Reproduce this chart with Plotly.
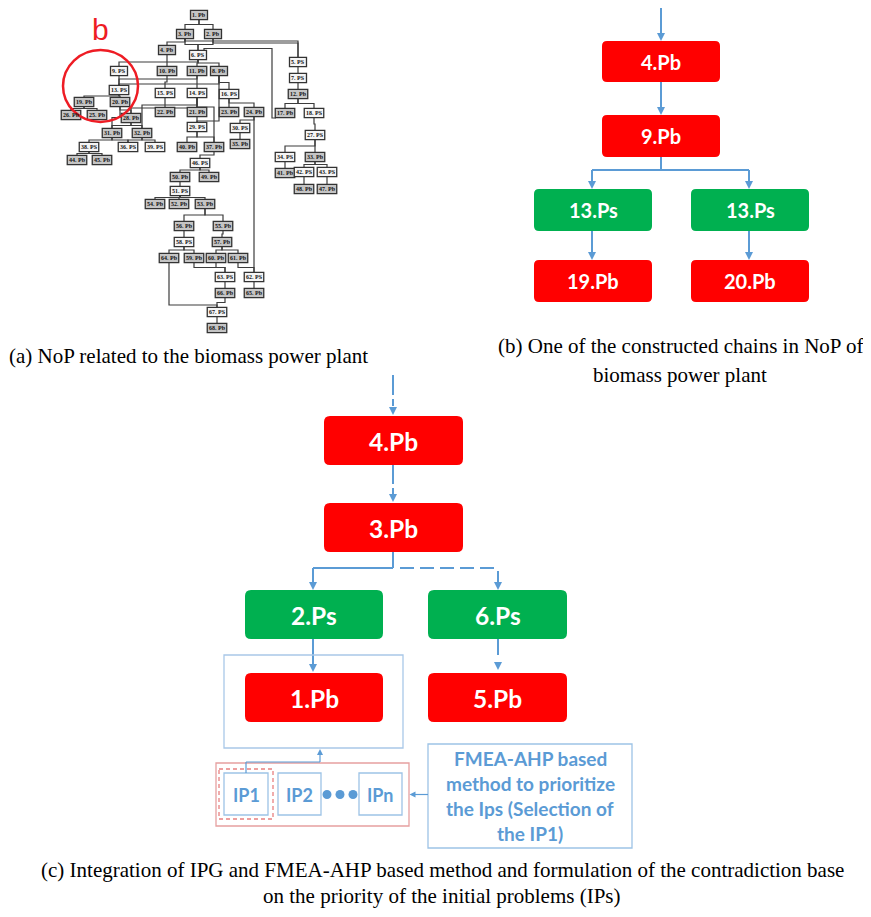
import plotly.graph_objects as go

# ---------------- Panel (a): network of problems (NoP) ----------------
A_labels = ["1. Pb", "3. Pb", "2. Pb", "4. Pb", "6. PS", "9. PS", "10. Pb", "11. Pb", "8. Pb",
            "5. PS", "7. PS", "12. Pb", "13. PS", "15. PS", "14. PS", "16. PS", "19. Pb", "20. Pb",
            "22. Pb", "21. Pb", "23. Pb", "24. Pb", "17. Pb", "18. PS", "26. Pb", "25. Pb", "28. Pb",
            "29. PS", "30. PS", "31. Pb", "32. Pb", "27. PS", "35. Pb", "38. PS", "36. PS", "39. PS",
            "40. Pb", "37. Pb", "34. PS", "33. Pb", "44. Pb", "45. Pb", "46. PS", "41. Pb", "42. PS",
            "43. PS", "50. Pb", "49. Pb", "48. Pb", "47. Pb", "51. PS", "54. Pb", "52. Pb", "53. Pb",
            "56. Pb", "55. Pb", "58. PS", "57. Pb", "64. Pb", "59. Pb", "60. Pb", "61. Pb", "63. PS",
            "62. PS", "66. Pb", "65. Pb", "67. PS", "68. Pb"]
A_x = [199, 185, 213, 167, 198, 119, 167, 197, 219,
       298, 298, 298, 119, 165, 197, 229, 84, 120,
       165, 197, 229, 254, 285, 314, 71, 97, 131,
       197, 240, 112, 142, 315, 240, 89, 128, 155,
       187, 214, 285, 315, 77, 102, 200, 285, 304,
       327, 180, 209, 304, 327, 180, 155, 179, 205,
       184, 223, 184, 222, 169, 194, 216, 238, 225,
       254, 225, 254, 217, 217]
A_y = [15, 34, 34, 50, 55, 71, 71, 71, 71,
       62, 78, 94, 90, 93, 93, 94, 102, 102,
       112, 112, 112, 112, 113, 113, 115, 115, 118,
       127, 128, 133, 133, 135, 144, 147, 147, 147,
       147, 147, 157, 157, 160, 160, 163, 173, 172,
       172, 177, 177, 189, 189, 191, 204, 204, 204,
       226, 226, 242, 242, 258, 258, 258, 258, 277,
       277, 293, 293, 312, 328]
A_edges = [(1, 3), (1, 2), (3, 4), (3, 6), (2, 6), (3, 5), (2, 5), (4, 10), (6, 9), (6, 11), (6, 8),
           (11, 13), (8, 13), (9, 13), (13, 19), (13, 20), (19, 26), (19, 25), (20, 28), (20, 31),
           (28, 31), (28, 32), (31, 38), (31, 36), (32, 36), (32, 39), (38, 44), (38, 45),
           (14, 32), (14, 28), (10, 15), (11, 14), (8, 16), (15, 22), (14, 21), (16, 23), (16, 24),
           (8, 29), (21, 29), (29, 40), (29, 37), (14, 37), (24, 30), (30, 35), (24, 62),
           (5, 7), (7, 12), (12, 17), (12, 18), (18, 27), (27, 34), (27, 33), (34, 41), (33, 42),
           (33, 43), (42, 48), (43, 47), (37, 46), (46, 50), (46, 49), (50, 51), (51, 54), (51, 52),
           (51, 53), (53, 56), (53, 55), (56, 58), (55, 57), (58, 64), (58, 59), (57, 60), (57, 61),
           (59, 63), (60, 63), (61, 62), (63, 66), (62, 65), (64, 67), (66, 67), (67, 68)]
A_mid = {(3, 5): 41, (2, 5): 43, (6, 9): 62, (11, 13): 79, (8, 13): 84, (14, 32): 105,
         (14, 28): 108, (14, 37): 107, (8, 29): 121, (64, 67): 305, (24, 62): None}

# ---------------- Panel (b) ----------------
B_labels = ["4.Pb", "9.Pb", "13.Ps", "13.Ps", "19.Pb", "20.Pb"]
B_kind = ["Pb", "Pb", "Ps", "Ps", "Pb", "Pb"]

# ---------------- Panel (c) ----------------
C_labels = ["4.Pb", "3.Pb", "2.Ps", "6.Ps", "1.Pb", "5.Pb"]
C_kind = ["Pb", "Pb", "Ps", "Ps", "Pb", "Pb"]
IP_labels = ["IP1", "IP2", "IPn"]
FMEA_lines = ["FMEA-AHP based", "method to prioritize", "the Ips (Selection of", "the IP1)"]

captions = {
    "a": ["(a) NoP related to the biomass power plant"],
    "b": ["(b) One of the constructed chains in NoP of", "biomass power plant"],
    "c": ["(c) Integration of IPG and FMEA-AHP based method and formulation of the contradiction base",
          "on the priority of the initial problems (IPs)"],
}

RED = "#ff0000"
GREEN = "#00b050"
BLUE = "#5b9bd5"
LBLUE = "#9dc3e6"
BOXFONT = "Lato, 'Open Sans', sans-serif"
SERIF = "'Liberation Serif', 'Times New Roman', serif"

# page body has an 8px margin: shift the coordinate window so marks land at page pixels
OFF = 8
W_PAGE, H_PAGE = 871, 917

shapes = []
annotations = []
fig = go.Figure()


def rrect(x0, y0, x1, y1, r, fill):
    p = (f"M {x0 + r},{y0} L {x1 - r},{y0} Q {x1},{y0} {x1},{y0 + r} L {x1},{y1 - r} "
         f"Q {x1},{y1} {x1 - r},{y1} L {x0 + r},{y1} Q {x0},{y1} {x0},{y1 - r} "
         f"L {x0},{y0 + r} Q {x0},{y0} {x0 + r},{y0} Z")
    shapes.append(dict(type="path", path=p, xref="x", yref="y", fillcolor=fill,
                       line=dict(width=0), layer="above"))


def line(x0, y0, x1, y1, color=BLUE, w=2, dash="solid"):
    shapes.append(dict(type="line", x0=x0, y0=y0, x1=x1, y1=y1, xref="x", yref="y",
                       line=dict(color=color, width=w, dash=dash), layer="above"))


def head(x, y, d="down", s=4, L=8, color=BLUE):
    if d == "down":
        p = f"M {x - s},{y - L} L {x + s},{y - L} L {x},{y} Z"
    elif d == "up":
        p = f"M {x - s},{y + L} L {x + s},{y + L} L {x},{y} Z"
    else:  # left
        p = f"M {x + L},{y - s} L {x + L},{y + s} L {x},{y} Z"
    shapes.append(dict(type="path", path=p, xref="x", yref="y", fillcolor=color,
                       line=dict(width=0), layer="above"))


def text(x, y, t, size, color="white", family=BOXFONT, bold=True, xanchor="center"):
    annotations.append(dict(x=x, y=y, xref="x", yref="y", text=(f"<b>{t}</b>" if bold else t),
                            showarrow=False, font=dict(size=size, color=color, family=family),
                            xanchor=xanchor, yanchor="middle", borderpad=0))


# ---- Panel (a) drawing ----
num = [int(lbl.split(".")[0]) for lbl in A_labels]
pos = {n: (x, y) for n, x, y in zip(num, A_x, A_y)}
hh = 4.6
ex, ey = [], []
for (p, c) in A_edges:
    px, py = pos[p]
    cx, cy = pos[c]
    yb, yt = py + hh, cy - hh
    mid = A_mid.get((p, c), (yb + yt) / 2)
    if mid is None or abs(px - cx) < 1:
        if abs(px - cx) >= 1:
            ex += [px, px, cx, None]
            ey += [yb, yt, yt, None]
        else:
            ex += [px, cx, None]
            ey += [yb, yt, None]
    else:
        ex += [px, px, cx, cx, None]
        ey += [yb, mid, mid, yt, None]
# extra routed edge 6 -> 17
ex += [204, 204, 272, 272, 276, None]
ey += [51, 48.5, 48.5, 118, 118, None]
fig.add_trace(go.Scatter(x=ex, y=ey, mode="lines", line=dict(color="#3c3c3c", width=1.2),
                         hoverinfo="skip", showlegend=False))

for lbl, x, y in zip(A_labels, A_x, A_y):
    w = 17 if len(lbl.split(".")[0]) == 1 else 19.5
    fill = "#c4c4c4" if lbl.endswith("Pb") else "#f4f4f4"
    shapes.append(dict(type="rect", x0=x - w / 2, x1=x + w / 2, y0=y - hh, y1=y + hh,
                       xref="x", yref="y", fillcolor=fill, line=dict(color="#333333", width=1.3),
                       layer="above"))
    text(x, y + 0.3, lbl, 6, color="#111111", family=SERIF, bold=True)

# red circle and b
shapes.append(dict(type="circle", x0=63, x1=138, y0=50, y1=122, xref="x", yref="y",
                   line=dict(color="#ee1c24", width=2.5), layer="above"))
annotations.append(dict(x=100, y=29, xref="x", yref="y", text="b", showarrow=False,
                        font=dict(size=30, color="#ee1c24", family="Liberation Sans, Arial"),
                        xanchor="center", yanchor="middle"))

# ---- Panel (b) drawing ----
bx = [[602, 720], [602, 720], [534, 652], [691, 809], [534, 652], [691, 809]]
by = [[41, 82], [115, 157], [189, 231], [189, 231], [260, 302], [260, 302]]
for lbl, k, xs, ys in zip(B_labels, B_kind, bx, by):
    rrect(xs[0], ys[0], xs[1], ys[1], 5, RED if k == "Pb" else GREEN)
    text((xs[0] + xs[1]) / 2, (ys[0] + ys[1]) / 2, lbl, 20)
line(661, 4, 661, 34); head(661, 41)
line(661, 82, 661, 108); head(661, 115)
line(661, 157, 661, 170); line(592, 170, 749, 170)
line(592, 170, 592, 183); head(592, 189)
line(749, 170, 749, 183); head(749, 189)
line(592, 231, 592, 254); head(592, 260)
line(749, 231, 749, 254); head(749, 260)

# ---- Panel (c) drawing ----
cx_ = [[324, 463], [324, 463], [245, 383], [428, 567], [245, 383], [428, 567]]
cy_ = [[416, 465], [503, 552], [590, 639], [590, 639], [673, 722], [673, 722]]
for lbl, k, xs, ys in zip(C_labels, C_kind, cx_, cy_):
    rrect(xs[0], ys[0], xs[1], ys[1], 6, RED if k == "Pb" else GREEN)
    text((xs[0] + xs[1]) / 2, (ys[0] + ys[1]) / 2 + 1, lbl, 24.5)
line(393, 375, 393, 395); line(393, 399, 393, 406); head(393, 415)
line(393, 465, 393, 484); line(393, 488, 393, 494); head(393, 502)
line(393, 552, 393, 568); line(313, 568, 393, 568)
line(313, 568, 313, 583); head(313, 590)
line(400, 568, 498, 568, dash="14px,6px")
line(498, 571, 498, 583); head(498, 590)
line(313, 639, 313, 665); head(313, 672)
line(498, 639, 498, 655); head(498, 670)

# frames
shapes.append(dict(type="rect", x0=224, x1=403, y0=655, y1=748, xref="x", yref="y",
                   line=dict(color="#a9c8e8", width=1.3), layer="above"))
shapes.append(dict(type="rect", x0=216, x1=409, y0=763, y1=826, xref="x", yref="y",
                   line=dict(color="#e6a0a0", width=1.3), layer="above"))
shapes.append(dict(type="rect", x0=219, x1=273, y0=769, y1=819, xref="x", yref="y",
                   line=dict(color="#e88080", width=1.3, dash="4px,3px"), layer="above"))
ipx = [[224, 268], [278, 321], [359, 402]]
for lbl, xs in zip(IP_labels, ipx):
    shapes.append(dict(type="rect", x0=xs[0], x1=xs[1], y0=773, y1=815, xref="x", yref="y",
                       line=dict(color=LBLUE, width=1.3), layer="above"))
    text((xs[0] + xs[1]) / 2, 795, lbl, 18, color=BLUE)
for dx in [327, 340, 353]:
    shapes.append(dict(type="circle", x0=dx - 4.5, x1=dx + 4.5, y0=790, y1=799, xref="x", yref="y",
                       fillcolor=BLUE, line=dict(width=0), layer="above"))
line(246, 773, 246, 762, w=1.2); line(246, 762, 320, 762, w=1.2); line(320, 762, 320, 755, w=1.2)
head(320, 749, d="up", s=3, L=6)
shapes.append(dict(type="rect", x0=428, x1=632, y0=744, y1=848, xref="x", yref="y",
                   line=dict(color=LBLUE, width=1.3), layer="above"))
line(428, 794.5, 415, 794.5, w=1.2); head(409.5, 794.5, d="left", s=3, L=6)
for i, t in enumerate(FMEA_lines):
    text(530, 758 + i * 25.2, t, 19, color=BLUE)

# ---- captions ----
CAP = 21
text(8, 356, captions["a"][0], CAP, color="black", family=SERIF, bold=False, xanchor="left")
text(680, 346, captions["b"][0], CAP, color="black", family=SERIF, bold=False)
text(680, 375, captions["b"][1], CAP, color="black", family=SERIF, bold=False)
text(442, 870, captions["c"][0], CAP, color="black", family=SERIF, bold=False)
text(442, 896, captions["c"][1], CAP, color="black", family=SERIF, bold=False)

fig.update_layout(
    width=W_PAGE - OFF, height=H_PAGE - 2 * OFF, margin=dict(l=0, r=0, t=0, b=0),
    paper_bgcolor="white", plot_bgcolor="white",
    xaxis=dict(range=[OFF, W_PAGE], visible=False, fixedrange=True),
    yaxis=dict(range=[H_PAGE - OFF, OFF], visible=False, fixedrange=True),
    shapes=shapes, annotations=annotations, showlegend=False,
)
fig.write_html("out.html")
